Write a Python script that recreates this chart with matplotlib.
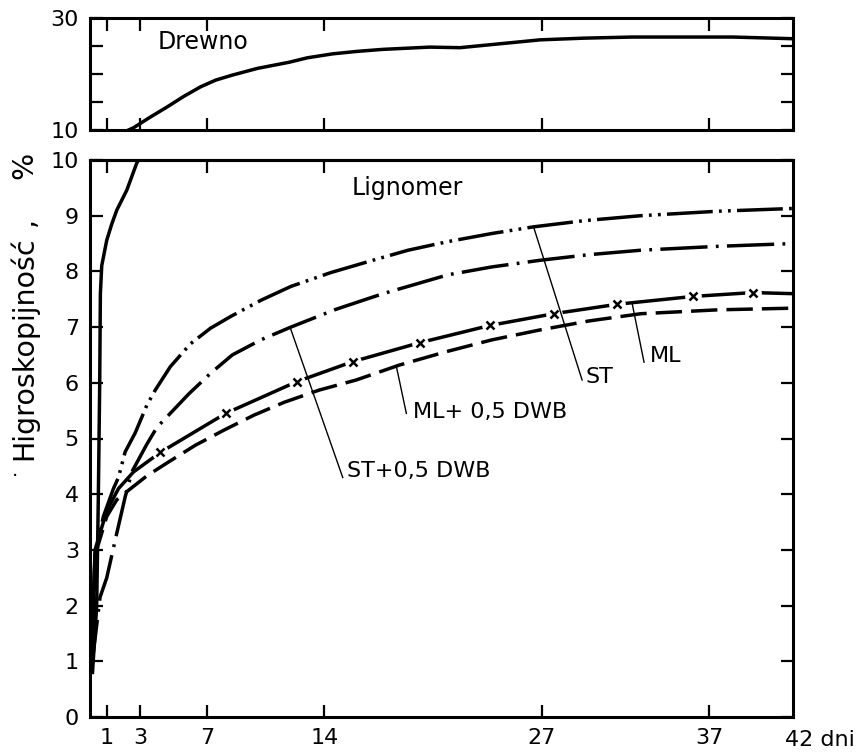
import numpy as np
import matplotlib.pyplot as plt

plt.rcParams['font.family'] = ['DejaVu Sans']
plt.rcParams['lines.scale_dashes'] = False

# data (days, moisture %)
drewno_top_x = [2.3, 2.6, 3.6, 4.6, 5.6, 6.6, 7.5, 8.5, 10.0, 11.9, 13.0, 14.5, 16.0, 17.5, 20.3,
                22.1, 24.5, 26.9, 29.5, 32.4, 38.4, 42]
drewno_top_y = [10.0, 10.4, 12.3, 14.1, 16.0, 17.7, 18.9, 19.8, 21.0, 22.1, 22.9, 23.6, 24.05, 24.4,
                24.8, 24.7, 25.4, 26.1, 26.4, 26.6, 26.6, 26.3]

drewno_x = [0.15, 0.4, 0.5, 0.58, 0.62, 0.7, 1.0, 1.3, 1.6, 2.2, 2.8, 3.0]
drewno_y = [0.8, 2.0, 4.0, 6.0, 7.6, 8.1, 8.56, 8.85, 9.1, 9.46, 9.95, 10.05]

st_x = [0.1, 0.3, 0.8, 1.4, 1.7, 2.1, 2.7, 3.4, 3.9, 4.8, 6.0, 7.2, 8.4, 10.2, 12.0, 14.4,
        16.9, 19.0, 21.3, 24.0, 26.5, 29.5, 32.9, 37.5, 42]
st_y = [1.0, 2.9, 3.6, 4.1, 4.3, 4.76, 5.1, 5.6, 5.87, 6.29, 6.7, 6.98, 7.19, 7.48, 7.73, 7.98,
        8.2, 8.38, 8.53, 8.68, 8.8, 8.91, 9.0, 9.08, 9.13]

st_dwb_x = [0.1, 0.6, 1.0, 1.6, 2.1, 2.5, 3.4, 4.0, 5.9, 7.2, 8.5, 10.2, 12.0, 14.7, 17.5, 21.4,
            24.0, 26.9, 29.8, 32.9, 37.5, 42]
st_dwb_y = [0.9, 2.15, 2.5, 3.3, 3.95, 4.4, 4.9, 5.2, 5.8, 6.17, 6.5, 6.77, 7.0, 7.32, 7.6, 7.94,
            8.08, 8.2, 8.3, 8.38, 8.45, 8.5]

ml_x = [0.1, 0.3, 1.0, 1.7, 2.6, 4.2, 8.1, 12.35, 15.7, 19.7, 23.9, 27.7, 31.5, 36.0, 39.6, 42]
ml_y = [1.0, 3.0, 3.7, 4.1, 4.4, 4.75, 5.45, 6.02, 6.38, 6.72, 7.03, 7.24, 7.41, 7.55, 7.62, 7.6]
ml_marks = list(range(5, 15))

ml_dwb_x = [0.1, 0.3, 1.0, 1.6, 2.3, 3.4, 4.7, 6.3, 8.0, 9.8, 11.6, 13.7, 15.9, 18.5, 21.3,
            24.0, 26.9, 29.8, 32.9, 37.5, 42]
ml_dwb_y = [1.0, 2.9, 3.6, 3.9, 4.07, 4.33, 4.58, 4.88, 5.15, 5.42, 5.65, 5.87, 6.05, 6.32, 6.56,
            6.77, 6.95, 7.11, 7.24, 7.31, 7.34]

x_ticks = [1, 3, 7, 14, 27, 37]
x_ticks_inner = [1, 7, 14, 27, 37]

fig = plt.figure(figsize=(8.56, 7.53), dpi=100)
ax_top = fig.add_axes([90/856, 1-130/753, 703/856, 112/753])
ax = fig.add_axes([90/856, 1-717/753, 703/856, 557/753])

lw = 2.5
fs = 16
tick_kw = dict(direction='in', length=9, width=1.6, labelsize=fs, pad=8)

for a in (ax_top, ax):
    for s in a.spines.values():
        s.set_linewidth(2.2)
    a.set_xlim(0, 42)

# top panel
ax_top.plot(drewno_top_x, drewno_top_y, color='black', lw=lw)
ax_top.set_ylim(10, 30)
ax_top.set_yticks([10, 15, 20, 25, 30])
ax_top.set_yticklabels(['10', '', '', '', '30'])
ax_top.set_xticks(x_ticks)
ax_top.set_xticklabels([])
ax_top.tick_params(top=True, right=True, **tick_kw)
ax_top.text(4.06, 25.7, 'Drewno', fontsize=17, va='center', ha='left')

# bottom panel
ax.plot(drewno_x, drewno_y, color='black', lw=lw, zorder=2.2)
ax.plot(ml_x, ml_y, color='black', lw=lw, zorder=2.0)
ax.plot(np.array(ml_x)[ml_marks], np.array(ml_y)[ml_marks], 'o', ms=11,
        color='white', zorder=2.05)
ax.plot(np.array(ml_x)[ml_marks], np.array(ml_y)[ml_marks], 'x', ms=6,
        mew=1.8, color='black', zorder=2.1)
ax.plot(st_x, st_y, color='black', lw=lw, dash_capstyle='butt',
        dashes=[33, 4.5, 2, 4.5, 2, 4.5], zorder=2.2)
ax.plot(st_dwb_x, st_dwb_y, color='black', lw=lw, dash_capstyle='butt',
        dashes=[34, 6, 2, 6], zorder=2.2)
ax.plot(ml_dwb_x, ml_dwb_y, color='black', lw=lw, dash_capstyle='butt',
        dashes=[19, 6.5], zorder=2.2)

ax.set_ylim(0, 10)
ax.set_yticks(range(0, 11))
ax.set_xticks(x_ticks)
ax.set_xticklabels([str(t) for t in x_ticks])
ax.tick_params(right=True, **tick_kw)
sec = ax.secondary_xaxis('top')
sec.set_xticks(x_ticks_inner)
sec.set_xticklabels([])
sec.tick_params(direction='in', length=9, width=1.6)
sec.spines['top'].set_linewidth(2.2)
ax.text(41.5, -0.024, '42 dni', fontsize=fs, ha='left', va='top',
        transform=ax.get_xaxis_transform())
ax.text(15.65, 9.5, 'Lignomer', fontsize=17, va='center', ha='left')

# pointer labels: (text, point on curve, pointer end, text position)
pointers = [
    ('ST', (26.5, 8.8), (29.4, 6.05), (29.6, 6.0)),
    ('ML', (32.4, 7.41), (33.1, 6.37), (33.45, 6.37)),
    ('ML+ 0,5 DWB', (18.3, 6.3), (18.9, 5.45), (19.3, 5.37)),
    ('ST+0,5 DWB', (11.95, 7.0), (15.1, 4.3), (15.35, 4.31)),
]
for label, p0, p1, pt in pointers:
    ax.plot([p0[0], p1[0]], [p0[1], p1[1]], color='black', lw=1.0, zorder=2.3)
    ax.text(pt[0], pt[1], label, fontsize=fs, ha='left', va='baseline')

fig.text(24/856, 1-348/753, 'Higroskopijność', rotation=90,
         fontsize=20.5, ha='center', va='center')
fig.text(26/856, 1-222/753, ',', rotation=90, fontsize=20.5, ha='center', va='center')
fig.text(24/856, 1-165/753, '%', rotation=90, fontsize=20.5, ha='center', va='center')
fig.text(15/856, 1-477/753, '·', fontsize=14, ha='center', va='center')

fig.savefig('out.png', dpi=100)
